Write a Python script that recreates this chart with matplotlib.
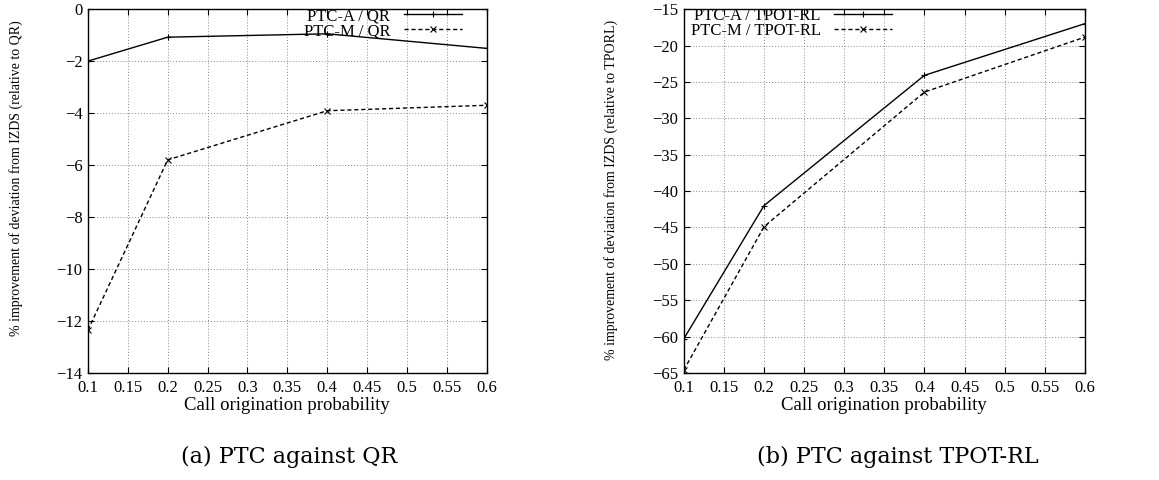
import numpy as np
import matplotlib
matplotlib.use("Agg")
import matplotlib.pyplot as plt

prob = [0.1, 0.2, 0.4, 0.6]

# panel (a): relative to QR
qr_ptc_a = [-2.0, -1.08, -0.95, -1.51]
qr_ptc_m = [-12.35, -5.8, -3.91, -3.7]

# panel (b): relative to TPOT-RL
tp_ptc_a = [-60.3, -42.0, -24.1, -17.0]
tp_ptc_m = [-64.6, -44.9, -26.4, -18.85]

plt.rcParams["font.family"] = ["Liberation Serif", "DejaVu Serif"]

fig = plt.figure(figsize=(11.59, 4.8), dpi=100)
axa = fig.add_axes([0.0759, 0.223, 0.344, 0.758])
axb = fig.add_axes([0.590, 0.223, 0.346, 0.758])


def style(ax, ylim, yticks, ylabel, lab_xy):
  ax.set_xlim(0.1, 0.6)
  ax.set_ylim(*ylim)
  ax.set_xticks(np.arange(0.1, 0.6001, 0.05))
  ax.set_xticklabels(["0.1", "0.15", "0.2", "0.25", "0.3", "0.35", "0.4",
                      "0.45", "0.5", "0.55", "0.6"])
  ax.set_yticks(yticks)
  ax.tick_params(direction="in", top=True, right=True, labelsize=12,
                 length=4, width=0.8)
  ax.tick_params(axis="x", pad=5)
  ax.tick_params(axis="y", pad=4)
  ax.grid(True, linestyle=(0, (1, 2)), color="#888888", linewidth=0.7)
  for s in ax.spines.values():
    s.set_linewidth(1.0)
  ax.set_xlabel("Call origination probability", fontsize=13.5, labelpad=1)
  ax.set_ylabel(ylabel, fontsize=10)
  ax.yaxis.set_label_coords(*lab_xy)


def legend(ax, loc, anchor):
  ax.legend(loc=loc, frameon=False, markerfirst=False, fontsize=12,
            handlelength=3.5, handletextpad=0.8, borderaxespad=0,
            borderpad=0.05, labelspacing=-0.05, bbox_to_anchor=anchor)


axa.plot(prob, qr_ptc_a, color="black", lw=1.0, marker="+", ms=5,
         mew=0.8, label="PTC-A / QR")
axa.plot(prob, qr_ptc_m, color="black", lw=1.0, ls=(0, (3, 2)),
         marker="x", ms=4, mew=0.8, label="PTC-M / QR")
style(axa, (-14, 0), np.arange(-14, 0.1, 2),
      "% improvement of deviation from IZDS (relative to QR)",
      (-0.163, 0.536))
legend(axa, "upper right", (0.94, 1.005))

axb.plot(prob, tp_ptc_a, color="black", lw=1.0, marker="+", ms=5,
         mew=0.8, label="PTC-A / TPOT-RL")
axb.plot(prob, tp_ptc_m, color="black", lw=1.0, ls=(0, (3, 2)),
         marker="x", ms=4, mew=0.8, label="PTC-M / TPOT-RL")
style(axb, (-65, -15), np.arange(-65, -14.9, 5),
      "% improvement of deviation from IZDS (relative to TPORL)",
      (-0.165, 0.503))
legend(axb, "upper left", (0.015, 1.005))

fig.text(289 / 1159, 1 - 457 / 480, "(a) PTC against QR", ha="center",
         va="center", fontsize=16, family="DejaVu Serif")
fig.text(898 / 1159, 1 - 457 / 480, "(b) PTC against TPOT-RL", ha="center",
         va="center", fontsize=16, family="DejaVu Serif")

fig.savefig("out.png", dpi=100)
